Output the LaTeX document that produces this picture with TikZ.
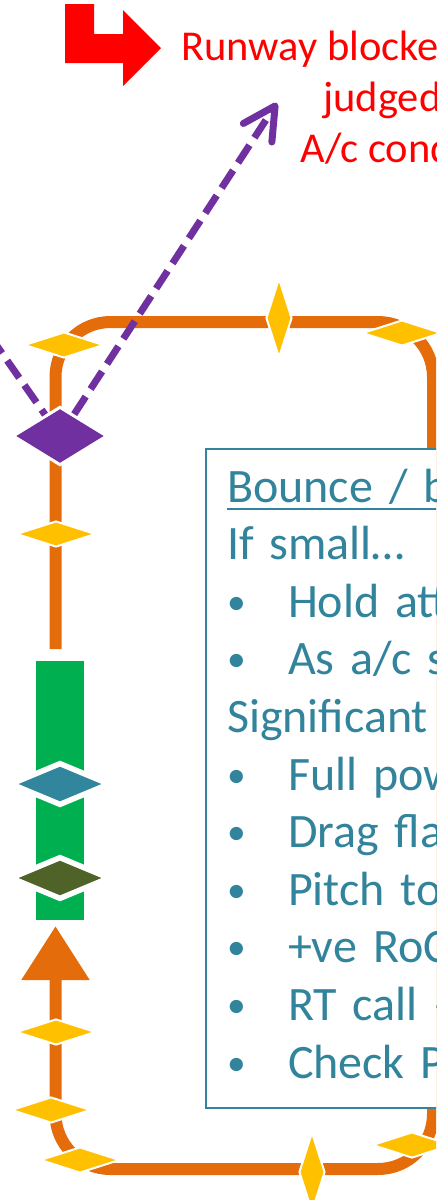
\documentclass[tikz,border=0pt]{standalone}
\usepackage{fontspec}
\setmainfont{Carlito}
\usetikzlibrary{shapes.geometric,arrows.meta}
\definecolor{orng}{HTML}{E46C0A}
\definecolor{ylw}{HTML}{FFC000}
\definecolor{prpl}{HTML}{7030A0}
\definecolor{grn}{HTML}{00B050}
\definecolor{tealc}{HTML}{31859C}
\definecolor{olv}{HTML}{4F6228}
\definecolor{boxc}{HTML}{31849B}
\newcommand{\bul}{\makebox[30.5pt][l]{\raisebox{1.5pt}{\scalebox{0.78}{•}}}}

\begin{document}
\begin{tikzpicture}[x=0.5pt,y=-0.5pt,
  gem/.style={diamond,draw=white,line width=1pt,fill=ylw,inner sep=0pt,minimum width=39.7pt,minimum height=13pt},
  vgem/.style={gem,minimum width=13pt,minimum height=39.7pt},
  bigdia/.style={diamond,draw=white,line width=2.75pt,inner sep=0pt,minimum width=50pt,minimum height=21.5pt},
  redtxt/.style={anchor=base west,inner sep=0pt,text=red,font=\fontsize{21.25}{25.5}\selectfont},
  pline/.style={prpl,line width=3.5pt,dash pattern=on 10.5pt off 4.5pt}]
\useasboundingbox (0,0) rectangle (436,1200);
\clip (0,0) rectangle (436,1200);
\fill[red] (65,4) -- (94,4) -- (94,34) -- (123,34) -- (123,10) -- (161,48) -- (123,86) -- (123,63) -- (65,63) -- cycle;
\node[redtxt] (r1) at (181,60) {Runway blocke};
\node[redtxt] (r2) at (323,111) {judged};
\node[redtxt] (r3) at (300,162) {A/c cond};
\draw[orng,line width=6pt,rounded corners=27.5pt,-{Triangle[width=32.5pt,length=27pt]}] (55.5,649) |- (433,322) |- (55.5,1169) -- (55.5,926);
\node[fill=grn,inner sep=0pt,minimum width=24pt,minimum height=129.5pt] (gbar) at (60,790.5) {};
\node[bigdia,fill=tealc] (d1) at (60,784) {};
\node[bigdia,fill=olv] (d2) at (60,878) {};
\coordinate (pin) at (-10,336);
\coordinate (ptip) at (277,103);
\node[diamond,fill=prpl,draw=white,line width=1.5pt,inner sep=0pt,minimum width=47.4pt,minimum height=29.3pt] (pd) at (60,436) {};
\draw[pline] (pin) -- (pd);
\draw[pline,-{Straight Barb[length=16pt,width=17pt,round]}] (pd) -- (ptip);
\node[gem] (y1) at (64,345) {};
\node[vgem] (y2) at (279,318) {};
\node[gem] (y3) at (402,333) {};
\node[gem] (y4) at (56,534) {};
\node[gem] (y5) at (56,1032) {};
\node[gem] (y6) at (51,1110) {};
\node[gem] (y7) at (80,1160) {};
\node[vgem] (y8) at (312,1172) {};
\node[gem] (y9) at (412,1145) {};
\node[draw=boxc,line width=1pt,fill=white,anchor=north west,outer sep=0pt,text=boxc,
  font=\fontsize{24}{28.8}\selectfont,text width=170pt,align=left,inner xsep=10.5pt,inner ysep=6.35pt] (txt) at (206,449)
  {\strut\makebox[0pt][l]{\rule[-4pt]{200pt}{1pt}}Bounce / b\\
   If small…\\
   \bul Hold att\\
   \bul As a/c s\\
   Significant\\
   \bul Full pow\\
   \bul Drag fla\\
   \bul Pitch to\\
   \bul +ve RoC\\
   \bul RT call –\\
   \bul Check P/\strut};
\end{tikzpicture}
\end{document}
